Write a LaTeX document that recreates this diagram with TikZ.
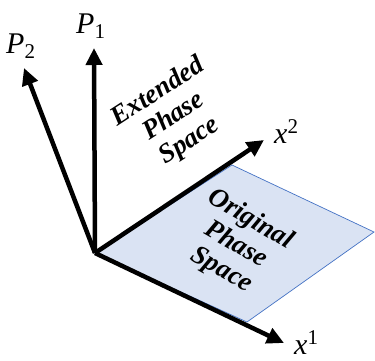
\documentclass[tikz,border=0pt]{standalone}
\usepackage{fontspec}
\setmainfont{Liberation Serif}
\usepackage{xcolor}
\usetikzlibrary{arrows.meta}
\definecolor{planefill}{RGB}{218,227,243}
\definecolor{planeedge}{RGB}{68,114,196}
\tikzset{
  axis/.style={
    -{Triangle[length=17pt,width=16pt]},
    line width=4.5pt,
    black
  },
  axislabel/.style={
    font=\fontsize{30}{32}\selectfont,
    inner sep=0pt,
    anchor=base west
  },
  region/.style={
    align=center,
    inner sep=0pt,
    font=\fontsize{27}{29}\selectfont\bfseries\itshape
  },
  plane/.style={
    fill=planefill,
    draw=planeedge,
    line width=0.7pt
  }
}

\begin{document}
\begin{tikzpicture}[x=1pt,y=-1pt]

\useasboundingbox (0,0) rectangle (375,360);

\coordinate (origin) at (95,253);
\coordinate (p1tip) at (94,48);
\coordinate (p2tip) at (24,68);
\coordinate (x1tip) at (284,343);
\coordinate (x2tip) at (264,140);

% original phase space plane
\coordinate (topcorner) at (232,165);
\coordinate (rightcorner) at (374,232);
\coordinate (bottomcorner) at (247,322);
\draw[plane] (origin) -- (topcorner) -- (rightcorner) -- (bottomcorner) -- cycle;

\draw[axis] (origin) -- (p1tip);
\draw[axis] (origin) -- (p2tip);
\draw[axis] (origin) -- (x1tip);
\draw[axis] (origin) -- (x2tip);

\node[axislabel] (p1) at (76,33) {\itshape P\textsubscript{\upshape 1}};
\node[axislabel] (p2) at (6,53) {\itshape P\textsubscript{\upshape 2}};
\node[axislabel] (x1) at (294,354) {\itshape x\textsuperscript{\upshape 1}};
\node[axislabel] (x2) at (274,143) {\itshape x\textsuperscript{\upshape 2}};

\node[region, rotate=33] (extended) at (174,117) {Extended\\Phase\\Space};
\node[region, rotate=-30] (original) at (236,245) {Original\\Phase\\Space};

\end{tikzpicture}
\end{document}
